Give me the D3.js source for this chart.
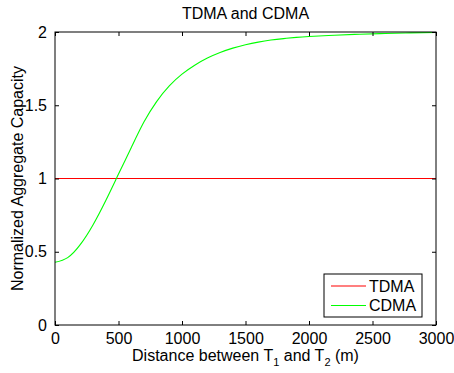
<!DOCTYPE html>
<html>
<head>
<meta charset="utf-8">
<script src="https://cdn.jsdelivr.net/npm/d3@7"></script>
<style>
  body { margin: 0; background: #fff; }
  svg { display: block; font-family: "Liberation Sans", Arial, sans-serif; }
</style>
</head>
<body>
<div id="chart"></div>
<script>
// values
const distance = [0, 100, 200, 300, 400, 500, 600, 700, 800, 900, 1000, 1100, 1200, 1300, 1400,
  1500, 1600, 1700, 1800, 1900, 2000, 2200, 2400, 2600, 2800, 3000];
const cdma = [0.428, 0.46, 0.55, 0.685, 0.85, 1.03, 1.21, 1.385, 1.525, 1.632, 1.712, 1.773, 1.822, 1.86, 1.89,
  1.913, 1.931, 1.945, 1.955, 1.963, 1.969, 1.978, 1.985, 1.99, 1.994, 1.997];
const tdma = distance.map(() => 1);
const xTicks = [0, 500, 1000, 1500, 2000, 2500, 3000];
const yTicks = [0, 0.5, 1, 1.5, 2];
const seriesNames = ["TDMA", "CDMA"];
const seriesColors = ["#ff0000", "#00ff00"];

const width = 454, height = 373;
const margin = { top: 32, right: 18, bottom: 48, left: 55 };

const svg = d3.select("#chart").append("svg")
  .attr("width", width)
  .attr("height", height);

const x = d3.scaleLinear().domain([0, 3000]).range([margin.left, width - margin.right]);
const y = d3.scaleLinear().domain([0, 2]).range([height - margin.bottom, margin.top]);

// lines
const line = d3.line()
  .x((d, i) => x(distance[i]))
  .y(d => y(d))
  .curve(d3.curveNatural);

[tdma, cdma].forEach((vals, k) => {
  svg.append("path")
    .attr("d", line(vals))
    .attr("fill", "none")
    .attr("stroke", seriesColors[k])
    .attr("stroke-width", 1.1);
});

// axes with inward ticks on all sides
const tickLen = 4;
svg.append("g")
  .attr("transform", `translate(0,${y(0)})`)
  .call(d3.axisBottom(x).tickValues(xTicks).tickSizeInner(-tickLen).tickSizeOuter(0).tickPadding(8).tickFormat(d3.format("d")))
  .call(g => g.select(".domain").remove());
svg.append("g")
  .attr("transform", `translate(0,${y(2)})`)
  .call(d3.axisTop(x).tickValues(xTicks).tickSizeInner(-tickLen).tickSizeOuter(0).tickFormat(""))
  .call(g => g.select(".domain").remove());
svg.append("g")
  .attr("transform", `translate(${x(0)},0)`)
  .call(d3.axisLeft(y).tickValues(yTicks).tickSizeInner(-tickLen).tickSizeOuter(0).tickPadding(8).tickFormat(d3.format("")))
  .call(g => g.select(".domain").remove());
svg.append("g")
  .attr("transform", `translate(${x(3000)},0)`)
  .call(d3.axisRight(y).tickValues(yTicks).tickSizeInner(-tickLen).tickSizeOuter(0).tickFormat(""))
  .call(g => g.select(".domain").remove());

svg.selectAll(".tick text").attr("font-size", 16).attr("fill", "#000")
  .attr("font-family", "Liberation Sans, Arial, sans-serif");
svg.selectAll(".tick line").attr("stroke", "#000");

svg.append("rect")
  .attr("x", x(0)).attr("y", y(2))
  .attr("width", x(3000) - x(0)).attr("height", y(0) - y(2))
  .attr("fill", "none").attr("stroke", "#000").attr("stroke-width", 1);

// title
svg.append("text")
  .attr("x", (x(0) + x(3000)) / 2).attr("y", 19)
  .attr("text-anchor", "middle").attr("font-size", 16)
  .text("TDMA and CDMA");

// x label with subscripts
const xl = svg.append("text")
  .attr("x", (x(0) + x(3000)) / 2).attr("y", 361)
  .attr("text-anchor", "middle").attr("font-size", 16);
xl.append("tspan").text("Distance between T");
xl.append("tspan").attr("font-size", 11).attr("dy", 5).text("1");
xl.append("tspan").attr("dy", -5).text(" and T");
xl.append("tspan").attr("font-size", 11).attr("dy", 5).text("2");
xl.append("tspan").attr("dy", -5).text(" (m)");

// y label
svg.append("text")
  .attr("transform", `translate(23,${(y(0) + y(2)) / 2}) rotate(-90)`)
  .attr("text-anchor", "middle").attr("font-size", 16)
  .text("Normalized Aggregate Capacity");

// legend
const lg = svg.append("g").attr("transform", "translate(324,274)");
lg.append("rect").attr("width", 98).attr("height", 43)
  .attr("fill", "#fff").attr("stroke", "#000");
seriesNames.forEach((name, i) => {
  const cy = 12 + i * 19.5;
  lg.append("line").attr("x1", 7).attr("x2", 42).attr("y1", cy).attr("y2", cy)
    .attr("stroke", seriesColors[i]).attr("stroke-width", 1.1);
  lg.append("text").attr("x", 45).attr("y", cy).attr("dy", "0.35em")
    .attr("font-size", 16).text(name);
});
</script>
</body>
</html>
